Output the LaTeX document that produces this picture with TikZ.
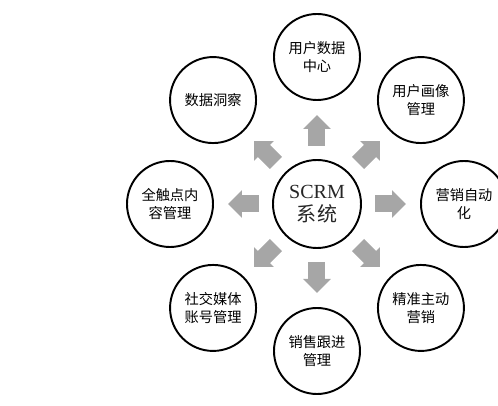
\documentclass[tikz,border=0pt]{standalone}
\usepackage{fontspec}
\setmainfont{Liberation Serif}
\newfontfamily\cjk{Noto Sans CJK SC}
\usetikzlibrary{arrows.meta,positioning,calc}
\definecolor{ArrowGray}{HTML}{A6A6A6}

\begin{document}
\begin{tikzpicture}[
  c/.style={draw=black,line width=1.1pt,circle,minimum size=1.72cm,inner sep=0pt,align=center,font=\cjk\fontsize{8.1}{10.2}\selectfont},
  ar/.style={-{Triangle[length=0.28cm,width=0.54cm]},ArrowGray,line width=0.34cm}]
  \useasboundingbox (-6.34,-4.04) rectangle (3.62,4.08);
  \node[c,minimum size=1.76cm,font=\fontsize{11.4}{13}\selectfont,text=black!85] (sys) {SCRM\\{\cjk 系统}};
  \node[c] (top) at (90:2.94) {用户数据\\中心};
  \node[c] (tr) at (45:2.94) {用户画像\\管理};
  \node[c] (rt) at (0:2.94) {营销自动\\化};
  \node[c] (br) at (-45:2.94) {精准主动\\营销};
  \node[c] (bot) at (-90:2.94) {销售跟进\\管理};
  \node[c] (bl) at (-135:2.94) {社交媒体\\账号管理};
  \node[c] (lt) at (180:2.94) {全触点内\\容管理};
  \node[c] (tl) at (135:2.94) {数据洞察};
  \foreach \n in {top,tr,rt,br,bot,bl,lt,tl}
    \draw[ar] ($(sys)!1.16cm!(\n)$) -- ($(sys)!1.78cm!(\n)$);
\end{tikzpicture}
\end{document}
